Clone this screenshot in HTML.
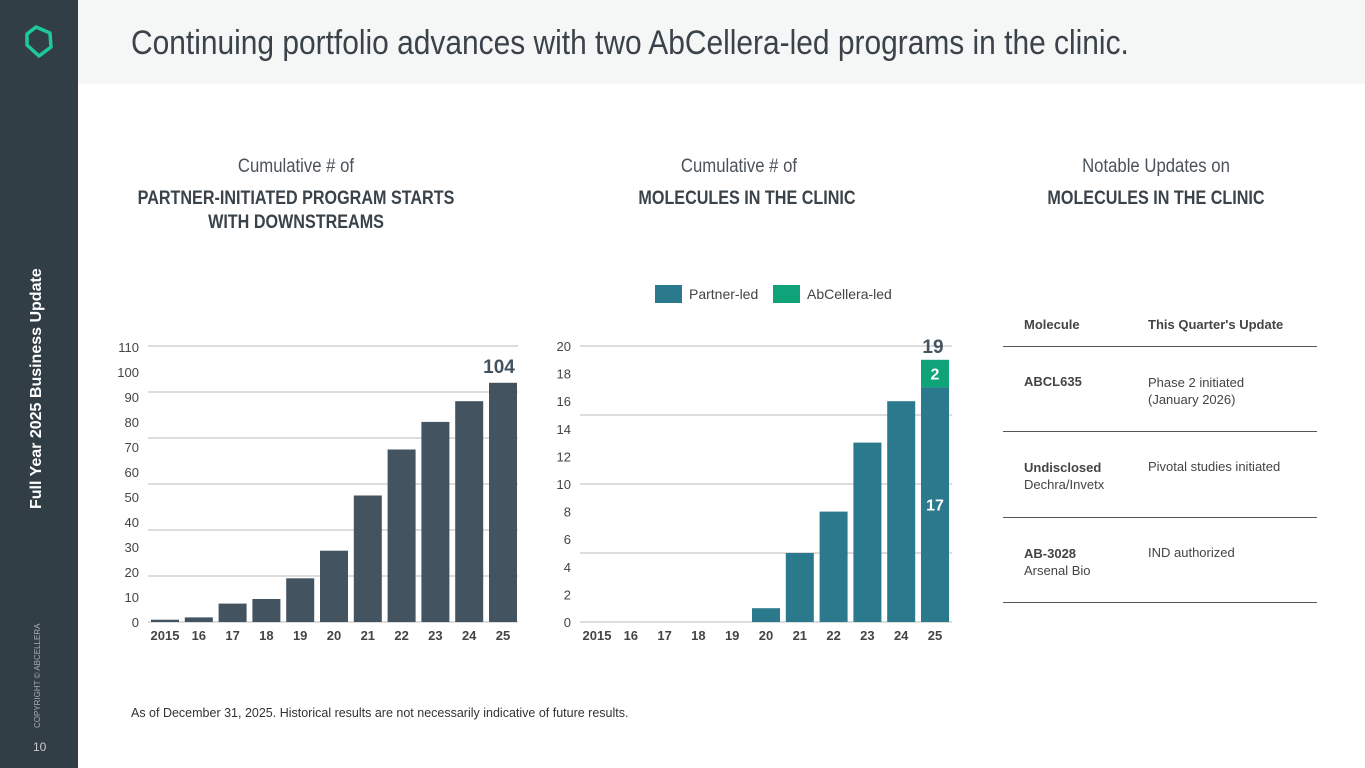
<!DOCTYPE html>
<html><head><meta charset="utf-8"><style>
body{margin:0;width:1365px;height:768px;overflow:hidden;background:#fff;font-family:"Liberation Sans",sans-serif;position:relative}
.abs{position:absolute}
.sb{left:0;top:0;width:78px;height:768px;background:#323e46}
.hdr{left:78px;top:0;width:1287px;height:84px;background:#f5f6f6}
.title{left:131px;top:24px;font-size:34px;color:#3a434a;white-space:nowrap;transform:scaleX(0.88);transform-origin:left top}
.h1{font-size:19px;color:#4a5258;transform:scaleX(0.88);text-align:center;white-space:nowrap}
.h2{font-size:19px;color:#3a434a;font-weight:bold;transform:scaleX(0.85);text-align:center;white-space:nowrap;line-height:24px}
.tbl{font-size:13px;color:#444}
.line{height:1px;background:#555}
</style></head><body>
<div class="abs sb"></div>
<svg class="abs" style="left:22px;top:25px" width="34" height="34"><polygon points="14,2 28,8 29,22 17,31 5,20 5,9" fill="none" stroke="#1ec99a" stroke-width="3.5" stroke-linejoin="round"/></svg>
<div class="abs" style="left:28px;top:385px;transform:rotate(-90deg);transform-origin:left top;color:#fff;font-weight:bold;font-size:16px;white-space:nowrap;width:0"><span style="position:absolute;left:-124px;top:0;white-space:nowrap">Full Year 2025 Business Update</span></div>
<div class="abs" style="left:33px;top:728px;transform:rotate(-90deg);transform-origin:left top;color:#aab;font-size:8px;white-space:nowrap">COPYRIGHT © ABCELLERA</div>
<div class="abs" style="left:33px;top:740px;color:#ccc;font-size:12px">10</div>
<div class="abs hdr"></div>
<div class="abs title">Continuing portfolio advances with two AbCellera-led programs in the clinic.</div>

<div class="abs h1" style="left:146px;top:156px;width:300px">Cumulative # of</div>
<div class="abs h2" style="left:96px;top:187px;width:400px">PARTNER-INITIATED PROGRAM STARTS<br>WITH DOWNSTREAMS</div>
<div class="abs h1" style="left:589px;top:156px;width:300px">Cumulative # of</div>
<div class="abs h2" style="left:547px;top:187px;width:400px">MOLECULES IN THE CLINIC</div>
<div class="abs h1" style="left:1006px;top:156px;width:300px">Notable Updates on</div>
<div class="abs h2" style="left:956px;top:187px;width:400px">MOLECULES IN THE CLINIC</div>

<svg id="c1" class="abs" style="left:0;top:0" width="1365" height="768"></svg>

<div class="abs tbl" style="left:1024px;top:317px;font-weight:bold">Molecule</div>
<div class="abs tbl" style="left:1148px;top:317px;font-weight:bold">This Quarter's Update</div>
<div class="abs line" style="left:1003px;top:346px;width:314px"></div>
<div class="abs tbl" style="left:1024px;top:374px;font-weight:bold">ABCL635</div>
<div class="abs tbl" style="left:1148px;top:374px;line-height:17px">Phase 2 initiated<br>(January 2026)</div>
<div class="abs line" style="left:1003px;top:431px;width:314px"></div>
<div class="abs tbl" style="left:1024px;top:459px;line-height:17px"><b>Undisclosed</b><br>Dechra/Invetx</div>
<div class="abs tbl" style="left:1148px;top:459px">Pivotal studies initiated</div>
<div class="abs line" style="left:1003px;top:517px;width:314px"></div>
<div class="abs tbl" style="left:1024px;top:545px;line-height:17px"><b>AB-3028</b><br>Arsenal Bio</div>
<div class="abs tbl" style="left:1148px;top:545px">IND authorized</div>
<div class="abs line" style="left:1003px;top:602px;width:314px"></div>

<div class="abs" style="left:131px;top:706px;font-size:12.5px;color:#333">As of December 31, 2025. Historical results are not necessarily indicative of future results.</div>

<script>
const years=["2015","16","17","18","19","20","21","22","23","24","25"];
const starts=[1,2,8,10,19,31,55,75,87,96,104];
const leftTicks=["0","10","20","30","40","50","60","70","80","90","100","110"];
const partnerLed=[0,0,0,0,0,1,5,8,13,16,17];
const abcLed=[0,0,0,0,0,0,0,0,0,0,2];
const rightTicks=["0","2","4","6","8","10","12","14","16","18","20"];
const svg=document.getElementById('c1');const NS="http://www.w3.org/2000/svg";
function mk(t,a,txt){const e=document.createElementNS(NS,t);for(const k in a)e.setAttribute(k,a[k]);if(txt!==undefined)e.textContent=txt;svg.appendChild(e);return e;}
const base=622;
const yL=v=>base-v*(276/120), xL=i=>165+i*33.8;
for(let g=0;g<=6;g++){const l=mk('line',{x1:148,x2:518,y1:base-g*46,y2:base-g*46,stroke:'#bbb','stroke-width':1});}
leftTicks.forEach((t,i)=>{const e=mk('text',{x:139,y:base-i*25+5,'text-anchor':'end','font-size':13,fill:'#444'},t);});
starts.forEach((v,i)=>{const r=mk('rect',{x:xL(i)-14,y:yL(v),width:28,height:base-yL(v),fill:'#435360'});
const t=mk('text',{x:xL(i),y:640,'text-anchor':'middle','font-size':13,'font-weight':'bold',fill:'#444'},years[i]);});
const n=starts.length-1;const lv=mk('text',{x:xL(n)-4,y:yL(starts[n])-10,'text-anchor':'middle','font-size':19,'font-weight':'bold',fill:'#435360'},String(starts[n]));
const yR=v=>base-v*13.8, xR=i=>597+i*33.8;
for(let g=0;g<=4;g++){const l=mk('line',{x1:580,x2:952,y1:base-g*69,y2:base-g*69,stroke:'#bbb','stroke-width':1});}
rightTicks.forEach((t,i)=>{const e=mk('text',{x:571,y:yR(i*2)+5,'text-anchor':'end','font-size':13,fill:'#444'},t);});
partnerLed.forEach((v,i)=>{
 if(v>0){const r=mk('rect',{x:xR(i)-14,y:yR(v),width:28,height:base-yR(v),fill:'#2b798c'});}
 if(abcLed[i]>0){const r=mk('rect',{x:xR(i)-14,y:yR(v+abcLed[i]),width:28,height:abcLed[i]*13.8,fill:'#0fa37a'});
  const a=mk('text',{x:xR(i),y:yR(v+abcLed[i]/2)+6,'text-anchor':'middle','font-size':16,'font-weight':'bold',fill:'#fff'},String(abcLed[i]));
  const p=mk('text',{x:xR(i),y:yR(v/2)+6,'text-anchor':'middle','font-size':16,'font-weight':'bold',fill:'#fff'},String(v));
  const tt=mk('text',{x:xR(i)-2,y:yR(v+abcLed[i])-7,'text-anchor':'middle','font-size':19,'font-weight':'bold',fill:'#435360'},String(v+abcLed[i]));}
 const t=mk('text',{x:xR(i),y:640,'text-anchor':'middle','font-size':13,'font-weight':'bold',fill:'#444'},years[i]);});
let e=mk('rect',{x:655,y:285,width:27,height:18,fill:'#2b798c'});
e=mk('text',{x:689,y:299,'font-size':14,fill:'#444'},'Partner-led');
e=mk('rect',{x:773,y:285,width:27,height:18,fill:'#0fa37a'});
e=mk('text',{x:807,y:299,'font-size':14,fill:'#444'},'AbCellera-led');
</script>
</body></html>
